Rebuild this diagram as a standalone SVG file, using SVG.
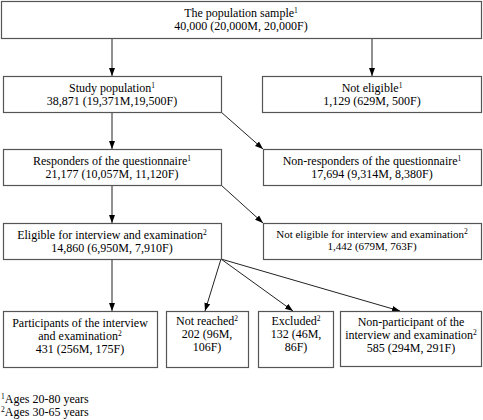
<svg xmlns="http://www.w3.org/2000/svg" width="483" height="420" viewBox="0 0 483 420">
<style>
rect{fill:#fff;stroke:#555;stroke-width:1.2}
text{font-family:"Liberation Serif","Times New Roman",serif;font-size:12px;fill:#000;text-anchor:middle}
.s{font-size:11px}
.sup{font-size:7.5px}
.c line{stroke:#222;stroke-width:1}
.fn{text-anchor:start}
</style>
<defs>
<marker id="ah" markerUnits="userSpaceOnUse" markerWidth="8" markerHeight="8" viewBox="0 0 8 8" refX="8" refY="4" orient="auto">
<path d="M0,1 L8,4 L0,7 Z" fill="#000"/>
</marker>
</defs>
<rect x="0" y="0" width="483" height="420" style="fill:#fff;stroke:none"/>
<g class="c">
<line x1="112" y1="38" x2="112" y2="76" marker-end="url(#ah)"/>
<line x1="372" y1="38" x2="372" y2="76" marker-end="url(#ah)"/>
<line x1="112" y1="112" x2="112" y2="149" marker-end="url(#ah)"/>
<line x1="221" y1="112" x2="263" y2="149" marker-end="url(#ah)"/>
<line x1="112" y1="185" x2="112" y2="223" marker-end="url(#ah)"/>
<line x1="221" y1="185" x2="263" y2="223" marker-end="url(#ah)"/>
<line x1="112" y1="259" x2="112" y2="311" marker-end="url(#ah)"/>
<line x1="221" y1="259" x2="205" y2="311" marker-end="url(#ah)"/>
<line x1="221" y1="259" x2="293" y2="311" marker-end="url(#ah)"/>
<line x1="221" y1="259" x2="400" y2="311" marker-end="url(#ah)"/>
</g>
<g id="sample">
<rect x="1.5" y="1.5" width="480" height="37"/>
<text x="241" y="17">The population sample<tspan class="sup" dy="-4">1</tspan></text>
<text x="241" y="30">40,000 (20,000M, 20,000F)</text>
</g>
<g id="study">
<rect x="3.5" y="76.5" width="218" height="36"/>
<text x="112" y="92">Study population<tspan class="sup" dy="-4">1</tspan></text>
<text x="112" y="105">38,871 (19,371M,19,500F)</text>
</g>
<g id="noteligible">
<rect x="262.5" y="76.5" width="219" height="36"/>
<text x="372" y="92">Not eligible<tspan class="sup" dy="-4">1</tspan></text>
<text x="372" y="105">1,129 (629M, 500F)</text>
</g>
<g id="responders">
<rect x="3.5" y="149.5" width="218" height="36"/>
<text x="112" y="165">Responders of the questionnaire<tspan class="sup" dy="-4">1</tspan></text>
<text x="112" y="178">21,177 (10,057M, 11,120F)</text>
</g>
<g id="nonresponders">
<rect x="263.5" y="149.5" width="218" height="36"/>
<text x="372" y="165">Non-responders of the questionnaire<tspan class="sup" dy="-4">1</tspan></text>
<text x="372" y="178">17,694 (9,314M, 8,380F)</text>
</g>
<g id="eligible">
<rect x="3.5" y="223.5" width="218" height="36"/>
<text x="112" y="239">Eligible for interview and examination<tspan class="sup" dy="-4">2</tspan></text>
<text x="112" y="252">14,860 (6,950M, 7,910F)</text>
</g>
<g id="noteligible2">
<rect x="263.5" y="223.5" width="218" height="36"/>
<text class="s" x="372" y="238">Not eligible for interview and examination<tspan class="sup" dy="-4">2</tspan></text>
<text class="s" x="372" y="250">1,442 (679M, 763F)</text>
</g>
<g id="participants">
<rect x="3.5" y="311.5" width="154" height="56"/>
<text x="80" y="327">Participants of the interview</text>
<text x="80" y="340">and examination<tspan class="sup" dy="-4">2</tspan></text>
<text x="80" y="353">431 (256M, 175F)</text>
</g>
<g id="notreached">
<rect x="166.5" y="311.5" width="82" height="56"/>
<text x="207" y="325">Not reached<tspan class="sup" dy="-4">2</tspan></text>
<text x="207" y="338">202 (96M,</text>
<text x="207" y="351">106F)</text>
</g>
<g id="excluded">
<rect x="258.5" y="311.5" width="75" height="56"/>
<text x="296" y="325">Excluded<tspan class="sup" dy="-4">2</tspan></text>
<text x="296" y="338">132 (46M,</text>
<text x="296" y="351">86F)</text>
</g>
<g id="nonparticipant">
<rect x="340.5" y="311.5" width="141" height="55"/>
<text x="411" y="326">Non-participant of the</text>
<text x="411" y="339">interview and examination<tspan class="sup" dy="-4">2</tspan></text>
<text x="411" y="352">585 (294M, 291F)</text>
</g>
<g id="footnotes">
<text class="fn" x="1" y="403"><tspan class="sup" dy="-4">1</tspan><tspan dy="4">Ages 20-80 years</tspan></text>
<text class="fn" x="1" y="416"><tspan class="sup" dy="-4">2</tspan><tspan dy="4">Ages 30-65 years</tspan></text>
</g>
</svg>
